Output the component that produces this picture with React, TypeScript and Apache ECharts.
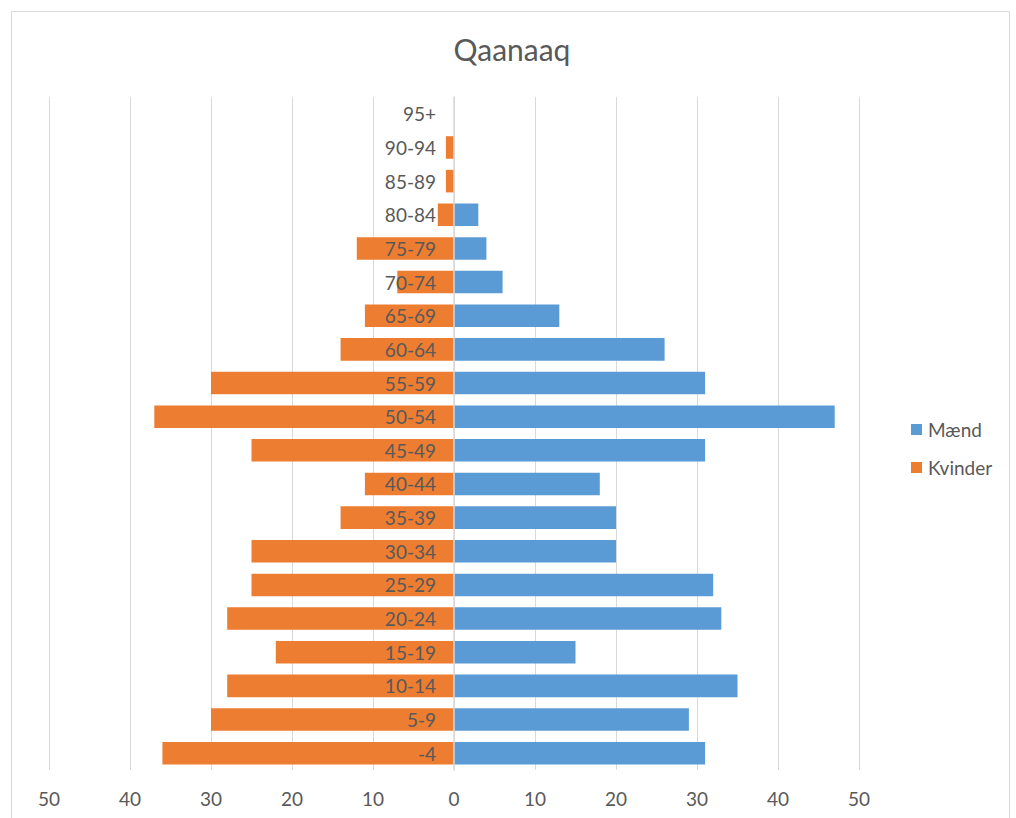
import React, { useEffect, useRef } from "react";
import * as echarts from "echarts";

const categories = ["-4", "5-9", "10-14", "15-19", "20-24", "25-29", "30-34", "35-39", "40-44", "45-49", "50-54", "55-59", "60-64", "65-69", "70-74", "75-79", "80-84", "85-89", "90-94", "95+"];
const maend = [31, 29, 35, 15, 33, 32, 20, 20, 18, 31, 47, 31, 26, 13, 6, 4, 3, 0, 0, 0];
const kvinder = [36, 30, 28, 22, 28, 25, 25, 14, 11, 25, 37, 30, 14, 11, 7, 12, 2, 1, 1, 0];
const titleText = "Qaanaaq";
const seriesNames = ["Mænd", "Kvinder"];

const FONT = "Lato, 'Open Sans', sans-serif";

export default function App() {
  const ref = useRef<HTMLDivElement>(null);
  useEffect(() => {
    if (!ref.current) return;
    const chart = echarts.init(ref.current, undefined, { renderer: "svg" });
    chart.setOption({
      animation: false,
      backgroundColor: "#ffffff",
      title: {
        text: titleText,
        left: 507,
        top: 29,
        textAlign: "center",
        textStyle: { color: "#595959", fontSize: 30, fontWeight: "normal", fontFamily: FONT },
      },
      legend: {
        orient: "vertical",
        left: 906,
        top: 415,
        itemWidth: 11,
        itemHeight: 11,
        itemGap: 19,
        icon: "rect",
        textStyle: { color: "#595959", fontSize: 19, fontFamily: FONT, padding: [0, 0, 0, 1] },
        data: seriesNames,
      },
      graphic: [
        {
          type: "rect",
          shape: { x: 11.5, y: 11.5, width: 998, height: 812 },
          style: { fill: "none", stroke: "#d9d9d9", lineWidth: 1 },
          silent: true,
        },
      ],
      grid: { left: 49, right: 157, top: 97, bottom: 48, containLabel: false },
      xAxis: {
        type: "value",
        min: -50,
        max: 50,
        interval: 10,
        axisLine: { show: false },
        axisTick: { show: false },
        splitLine: { show: true, lineStyle: { color: "#d9d9d9", width: 1 } },
        axisLabel: {
          color: "#595959",
          fontSize: 19,
          fontFamily: FONT,
          margin: 19,
          formatter: (v: number) => String(Math.abs(v)),
        },
      },
      yAxis: {
        type: "category",
        data: categories,
        position: "left",
        offset: -405,
        z: 5,
        axisLine: { show: true, onZero: false, lineStyle: { color: "#d9d9d9", width: 1.5 } },
        axisTick: { show: false },
        axisLabel: { color: "#595959", fontSize: 19, fontFamily: FONT, margin: 18 },
      },
      series: [
        {
          name: seriesNames[0],
          type: "bar",
          data: maend,
          barGap: "-100%",
          barCategoryGap: "33%",
          itemStyle: { color: "#5B9BD5" },
        },
        {
          name: seriesNames[1],
          type: "bar",
          data: kvinder.map((v) => -v),
          barGap: "-100%",
          barCategoryGap: "33%",
          itemStyle: { color: "#ED7D31" },
        },
      ],
    });
    return () => chart.dispose();
  }, []);
  return <div ref={ref} style={{ position: "fixed", left: 0, top: 0, width: 1016, height: 818 }} />;
}
